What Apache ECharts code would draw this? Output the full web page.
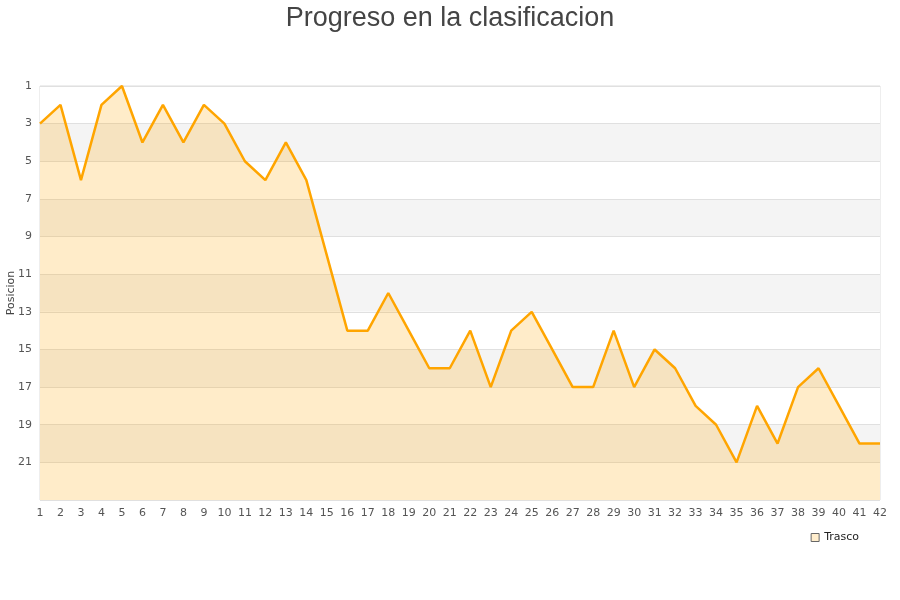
<!DOCTYPE html>
<html>
<head>
<meta charset="utf-8">
<script src="https://cdn.jsdelivr.net/npm/echarts@6/dist/echarts.min.js"></script>
<style>html,body{margin:0;padding:0;background:#fff}#c{width:900px;height:600px}</style>
</head>
<body>
<div id="c"></div>
<script>
const jornadas = ['1','2','3','4','5','6','7','8','9','10','11','12','13','14','15','16','17','18','19','20','21','22','23','24','25','26','27','28','29','30','31','32','33','34','35','36','37','38','39','40','41','42'];
const posiciones = [3,2,6,2,1,4,2,4,2,3,5,6,4,6,10,14,14,12,14,16,16,14,17,14,13,15,17,17,14,17,15,16,18,19,21,18,20,17,16,18,20,20];
const posicionLabels = ['1','2','3','4','5','6','7','8','9','10','11','12','13','14','15','16','17','18','19','20','21','22','23'];
const hiddenLabels = ['23'];

const chart = echarts.init(document.getElementById('c'));
chart.setOption({
  animation: false,
  backgroundColor: '#ffffff',
  title: {
    text: 'Progreso en la clasificacion',
    left: 'center',
    top: 0,
    textStyle: { fontFamily: 'Liberation Sans, Arial, sans-serif', fontSize: 27, fontWeight: 'normal', color: '#444444' }
  },
  legend: {
    right: 36, top: 527,
    itemWidth: 8, itemHeight: 8,
    icon: 'rect',
    textStyle: { fontFamily: 'DejaVu Sans, sans-serif', fontSize: 11, color: '#222' },
    data: [{ name: 'Trasco', itemStyle: { color: '#FFEDCC', borderColor: '#666', borderWidth: 1 } }]
  },
  grid: { left: 40, right: 20, top: 86, bottom: 100, outerBoundsMode: 'none', containLabel: false, show: true, borderColor: '#dddddd', borderWidth: 1 },
  xAxis: {
    type: 'category',
    data: jornadas,
    boundaryGap: false,
    axisLine: { show: false },
    axisTick: { show: false },
    axisLabel: { interval: 0, fontFamily: 'DejaVu Sans, sans-serif', fontSize: 11, color: '#555', margin: 8 },
    splitLine: { show: false }
  },
  yAxis: {
    type: 'category',
    data: posicionLabels,
    inverse: true,
    boundaryGap: false,
    name: 'Posicion',
    nameLocation: 'middle',
    nameGap: 23,
    nameMoveOverlap: false,
    nameTextStyle: { fontFamily: 'DejaVu Sans, sans-serif', fontSize: 11, color: '#444' },
    axisLine: { show: false },
    axisTick: { show: false },
    axisLabel: {
      interval: 1,
      fontFamily: 'DejaVu Sans, sans-serif', fontSize: 11, color: '#555', margin: 8,
      formatter: v => hiddenLabels.includes(v) ? '' : v
    },
    splitLine: { show: true, interval: 1, lineStyle: { color: '#e0e0e0', width: 1 } },
    splitArea: { show: true, interval: 1, areaStyle: { color: ['#ffffff', '#f4f4f4'] } }
  },
  series: [{
    name: 'Trasco',
    type: 'line',
    data: posiciones.map(String),
    symbol: 'none',
    lineStyle: { color: '#FFA500', width: 2.5 },
    itemStyle: { color: '#FFEDCC' },
    areaStyle: { color: 'rgba(255,165,0,0.21)', opacity: 1, origin: 'end' }
  }]
});
</script>
</body>
</html>
